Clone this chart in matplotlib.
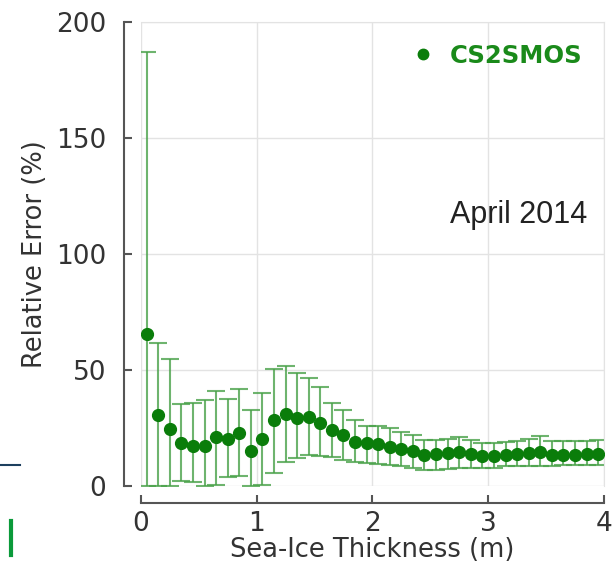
import numpy as np
import matplotlib
matplotlib.use("Agg")
import matplotlib.pyplot as plt
from matplotlib.lines import Line2D

# ice thickness bin centres (m)
thickness = [0.05, 0.15, 0.25, 0.35, 0.45, 0.55, 0.65, 0.75, 0.85, 0.95,
             1.05, 1.15, 1.25, 1.35, 1.45, 1.55, 1.65, 1.75, 1.85, 1.95,
             2.05, 2.15, 2.25, 2.35, 2.45, 2.55, 2.65, 2.75, 2.85, 2.95,
             3.05, 3.15, 3.25, 3.35, 3.45, 3.55, 3.65, 3.75, 3.85, 3.95]

# mean relative error (%) per bin
rel_err = [65.5, 30.5, 24.5, 18.7, 17.5, 17.5, 21.0, 20.5, 23.0, 15.2,
           20.5, 28.4, 31.3, 29.6, 29.9, 27.4, 24.1, 22.0, 19.1, 18.4,
           18.0, 17.0, 16.0, 15.0, 13.5, 13.7, 14.2, 14.8, 14.0, 13.2,
           12.8, 13.5, 13.8, 14.2, 14.8, 13.5, 13.5, 13.5, 13.8, 14.0]

# lower / upper ends of the spread
err_low = [0.0, 0.0, 0.0, 2.3, 2.0, 0.0, 0.5, 4.0, 4.3, 0.0,
           0.5, 5.5, 10.5, 12.0, 13.4, 12.9, 12.4, 11.5, 10.5, 9.8,
           9.5, 9.0, 8.5, 8.0, 7.0, 7.0, 7.5, 8.0, 8.0, 8.0,
           8.0, 8.5, 8.5, 8.5, 8.5, 8.5, 9.0, 9.0, 9.0, 9.0]
err_high = [187.0, 61.5, 55.0, 35.5, 36.0, 37.0, 41.0, 37.5, 42.0, 33.0,
            40.0, 50.7, 52.0, 48.6, 46.7, 42.8, 36.0, 32.8, 28.4, 26.0,
            26.0, 25.0, 23.5, 22.0, 20.0, 20.0, 20.5, 21.0, 20.0, 18.5,
            18.5, 19.0, 19.5, 20.5, 21.5, 19.5, 19.5, 19.5, 19.5, 20.0]

xticks = [0, 1, 2, 3, 4]
yticks = [0, 50, 100, 150, 200]

dark_green = "#0a7d0a"
bar_green = "#4aa24a"
axis_grey = "#555555"

x = np.array(thickness)
y = np.array(rel_err)
yerr = np.vstack([y - np.array(err_low), np.array(err_high) - y])

fig = plt.figure(figsize=(6.15, 5.66), dpi=100)
ax = fig.add_axes([0.229, 0.141, 0.753, 0.820])

ax.errorbar(x, y, yerr=yerr, fmt="none", ecolor=bar_green, elinewidth=1.5,
            capsize=6.5, capthick=1.5, alpha=0.8, zorder=2)
ax.plot(x, y, "o", color=dark_green, markersize=8.5, zorder=3)

ax.set_xlim(0, 4)
ax.set_ylim(0, 200)
ax.set_xticks(xticks)
ax.set_yticks(yticks)
ax.grid(True, color="#e3e3e3", linewidth=1.0)
ax.set_axisbelow(True)

# detached axis lines on the left and bottom, light frame elsewhere
for side in ["left", "bottom"]:
    ax.spines[side].set_position(("outward", 12))
    ax.spines[side].set_color(axis_grey)
    ax.spines[side].set_linewidth(1.5)
for side in ["top", "right"]:
    ax.spines[side].set_color("#e3e3e3")
ax.tick_params(direction="in", length=6, width=1.5, color=axis_grey,
               labelsize=19, labelcolor="#333333")
ax.tick_params(axis="y", pad=13)
ax.tick_params(axis="x", pad=6)

ax.set_xlabel("Sea-Ice Thickness (m)", fontsize=18.5, color="#333333", labelpad=0)
ax.set_ylabel("Relative Error (%)", fontsize=18.5, color="#333333", labelpad=6)

leg = ax.legend(handles=[Line2D([], [], linestyle="none", marker="o",
                                color=dark_green, markersize=7.5)],
                labels=["CS2SMOS"], loc="upper right", frameon=False,
                handlelength=0.8, handletextpad=0.7, borderaxespad=0.5,
                prop={"weight": "bold", "size": 17.5})
for t in leg.get_texts():
    t.set_color("#1a8a1a")

ax.text(0.965, 0.585, "April 2014", transform=ax.transAxes, ha="right",
        va="center", fontsize=22, family="Liberation Sans", color="#222222")

# slide remnants at the left edge
fig.add_artist(Line2D([0.0, 0.033], [0.178, 0.178], color="#1d3f5e", lw=1.5))
fig.add_artist(Line2D([0.018, 0.018], [0.02, 0.08], color="#0a9a3a", lw=3))

fig.savefig("out.png", dpi=100)
